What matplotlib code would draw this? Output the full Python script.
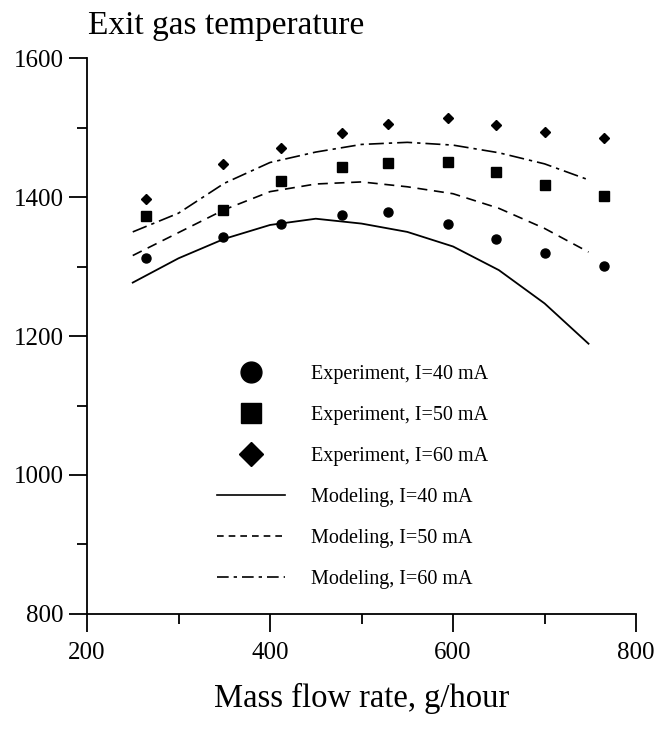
import matplotlib
matplotlib.use("Agg")
import matplotlib.pyplot as plt
from matplotlib.lines import Line2D
from matplotlib.ticker import MultipleLocator

plt.rcParams["font.family"] = ["Liberation Serif", "DejaVu Serif"]

# Експериментальні точки (масова витрата, г/год)
exp_x = [265, 349, 412, 479, 529, 594, 647, 700, 765]
exp_40 = [1312, 1343, 1361, 1374, 1379, 1362, 1340, 1320, 1301]
exp_50 = [1373, 1381, 1424, 1443, 1449, 1450, 1436, 1418, 1402]
exp_60 = [1397, 1448, 1471, 1492, 1506, 1514, 1504, 1494, 1485]

# Модельні криві
mod_x = [250, 300, 350, 400, 450, 500, 550, 600, 650, 700, 748]
mod_40 = [1277, 1312, 1340, 1360, 1369, 1362, 1350, 1329, 1295, 1247, 1189]
mod_50 = [1316, 1349, 1382, 1408, 1419, 1422, 1415, 1405, 1384, 1355, 1321]
mod_60 = [1350, 1377, 1420, 1450, 1465, 1476, 1479, 1475, 1464, 1448, 1425]

labels = ["Experiment, I=40 mA", "Experiment, I=50 mA", "Experiment, I=60 mA",
          "Modeling, I=40 mA", "Modeling, I=50 mA", "Modeling, I=60 mA"]

fig = plt.figure(figsize=(6.64, 7.29), dpi=100)
ax = fig.add_axes([0.131, 0.158, 0.827, 0.762])

ax.plot(exp_x, exp_40, "o", color="black", ms=6.5, ls="none")
ax.plot(exp_x, exp_50, "s", color="black", ms=7, ls="none")
ax.plot(exp_x, exp_60, "D", color="black", ms=5.5, ls="none")

ax.plot(mod_x, mod_40, color="black", lw=1.3, ls="-")
ax.plot(mod_x, mod_50, color="black", lw=1.2, ls=(0, (6, 4)))
ax.plot(mod_x, mod_60, color="black", lw=1.2, ls=(0, (9, 3, 2, 3)))

ax.set_xlim(200, 800)
ax.set_ylim(800, 1600)
ax.xaxis.set_major_locator(MultipleLocator(200))
ax.xaxis.set_minor_locator(MultipleLocator(100))
ax.yaxis.set_major_locator(MultipleLocator(200))
ax.yaxis.set_minor_locator(MultipleLocator(100))
ax.tick_params(which="major", direction="out", length=13, width=1.3, labelsize=18, pad=4)
ax.tick_params(axis="x", which="major", pad=7)
ax.tick_params(which="minor", direction="out", length=7, width=1.3)
for side in ("top", "right"):
    ax.spines[side].set_visible(False)
for side in ("left", "bottom"):
    ax.spines[side].set_linewidth(1.3)

ax.set_xlabel("Mass flow rate, g/hour", fontsize=23.5, labelpad=14)
fig.text(0.133, 0.964, "Exit gas temperature", fontsize=24, ha="left", va="center")

handles = [
    Line2D([], [], color="black", marker="o", ls="none", ms=15),
    Line2D([], [], color="black", marker="s", ls="none", ms=15),
    Line2D([], [], color="black", marker="D", ls="none", ms=12),
    Line2D([], [], color="black", lw=1.2, ls="-"),
    Line2D([], [], color="black", lw=1.2, ls=(0, (4, 3))),
    Line2D([], [], color="black", lw=1.2, ls=(0, (7, 3, 2, 3))),
]
ax.legend(handles, labels, loc="upper left", bbox_to_anchor=(0.299, 0.524),
          bbox_transform=fig.transFigure, frameon=False, fontsize=14.5,
          handlelength=3.4, handletextpad=1.3, labelspacing=1.09)

fig.savefig("out.png", dpi=100)
